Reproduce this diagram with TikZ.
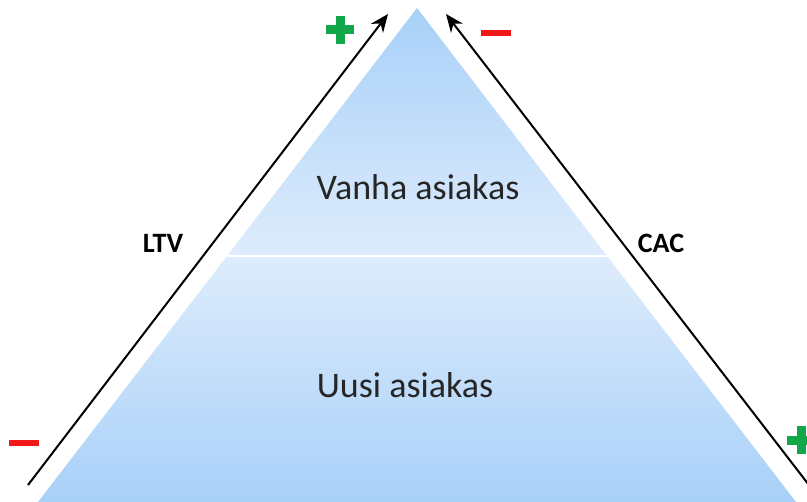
\documentclass[tikz,border=0pt]{standalone}
\usepackage{fontspec}
\setmainfont{Carlito}
\usetikzlibrary{arrows.meta}

\definecolor{pyrtop}{HTML}{A8D0F8}
\definecolor{pyrmid}{HTML}{DEECFC}
\definecolor{signgreen}{HTML}{12A84A}
\definecolor{signred}{HTML}{F01818}

\tikzset{
  axisarrow/.style={line width=1pt, -{Stealth[length=9pt, width=7.5pt]}},
  axislabel/.style={font=\fontsize{14}{16}\selectfont\bfseries},
  levellabel/.style={font=\fontsize{18}{20}\selectfont, text=black!85},
  signbar/.style={minimum width=14pt, minimum height=4.5pt, inner sep=0pt, draw=none},
}

\begin{document}
\begin{tikzpicture}[x=0.5pt, y=-0.5pt]
  \useasboundingbox (0,0) rectangle (807,502);

  % pyramid corners
  \coordinate (apex) at (417,8);
  \coordinate (baseL) at (38,502);
  \coordinate (baseR) at (796,502);
  \coordinate (midL) at (227,256);
  \coordinate (midR) at (607,256);

  % shaded levels
  \begin{scope}
    \clip (apex) -- (midR) -- (midL) -- cycle;
    \shade[top color=pyrtop, bottom color=pyrmid] (38,8) rectangle (796,256);
  \end{scope}
  \begin{scope}
    \clip (midL) -- (midR) -- (baseR) -- (baseL) -- cycle;
    \shade[top color=pyrmid, bottom color=pyrtop] (38,256) rectangle (796,502);
  \end{scope}
  \draw[white, line width=1pt] (midL) -- (midR);

  \node[levellabel] (old) at (418,187) {Vanha asiakas};
  \node[levellabel] (new) at (405,385) {Uusi asiakas};

  % arrows along the sides
  \coordinate (ltvS) at (28,485);
  \coordinate (ltvE) at (388,14);
  \coordinate (cacS) at (812,489);
  \coordinate (cacE) at (446,14);
  \draw[axisarrow] (ltvS) -- (ltvE);
  \draw[axisarrow] (cacS) -- (cacE);

  \node[axislabel] (ltv) at (163,243) {LTV};
  \node[axislabel] (cac) at (661,243) {CAC};

  % signs
  \node[signbar, fill=signgreen] (plusTh) at (340,30) {};
  \node[signbar, fill=signgreen, rotate=90] (plusTv) at (340,30) {};
  \node[signbar, fill=signred, minimum width=15pt, minimum height=2.8pt] (minusT) at (496,33) {};
  \node[signbar, fill=signred, minimum width=15pt, minimum height=2.8pt] (minusB) at (24,443) {};
  \node[signbar, fill=signgreen] (plusBh) at (801,440) {};
  \node[signbar, fill=signgreen, rotate=90] (plusBv) at (801,440) {};
\end{tikzpicture}
\end{document}
